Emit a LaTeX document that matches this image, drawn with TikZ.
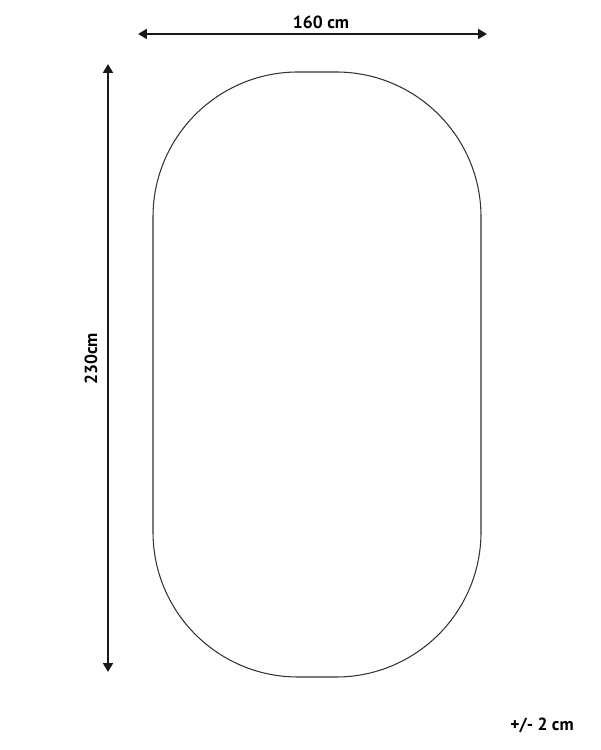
\documentclass[tikz,border=0pt]{standalone}
\usepackage{fontspec}
\setmainfont{PT Sans}
\usetikzlibrary{arrows.meta}
\tikzset{
  dimline/.style={line width=1.3pt,black!90,{Triangle[length=5pt,width=5.5pt]}-{Triangle[length=5pt,width=5.5pt]}},
  dimlabel/.style={font=\bfseries\fontsize{10}{12}\selectfont,inner sep=0pt},
  outline/.style={line width=0.6pt,black!80}
}

\begin{document}
\begin{tikzpicture}[x=0.02cm,y=0.02cm]

    % Define the outline of the rug
    \def\xleft{153}    % left edge
    \def\xright{481}   % right edge
    \def\ybot{73}      % bottom edge
    \def\ytop{678}     % top edge

    % -- Fix the page size --
    \useasboundingbox (0,0) rectangle (600,750);

    % -- Draw the rounded outline --
    \draw[outline,rounded corners=2.9cm] (\xleft,\ybot) rectangle (\xright,\ytop);

    % -- End points of the dimension arrows --
    \coordinate (wl) at (138,716);
    \coordinate (wr) at (487,716);
    \coordinate (ht) at (108,686);
    \coordinate (hb) at (108,78);

    % -- Draw the dimension arrows --
    \draw[dimline] (wl) -- (wr);
    \draw[dimline] (ht) -- (hb);

    % -- Labels --
    \node[dimlabel] (width) at (321,728) {160 cm};
    \node[dimlabel,rotate=90] (height) at (91,391) {230cm};
    \node[dimlabel] (tol) at (542,25) {+/- 2 cm};

\end{tikzpicture}
\end{document}
